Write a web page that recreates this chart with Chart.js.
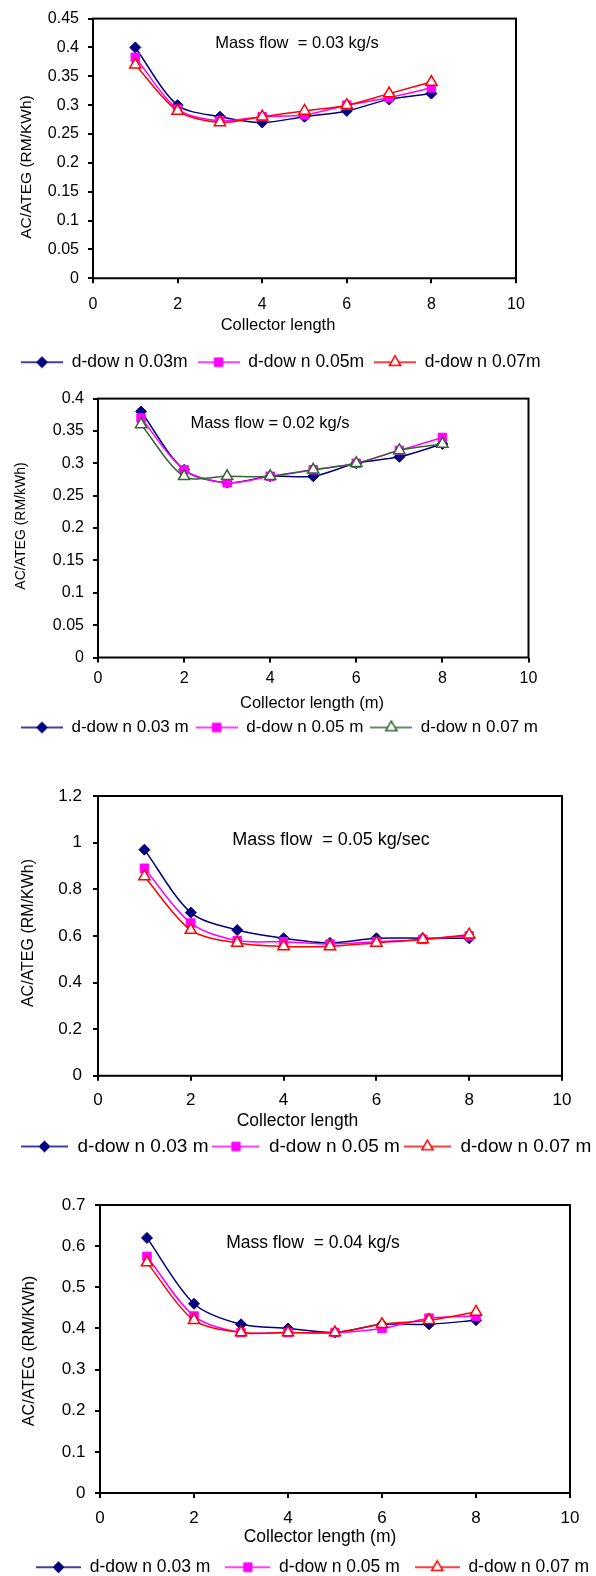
<!DOCTYPE html>
<html>
<head>
<meta charset="utf-8">
<title>AC/ATEG vs collector length</title>
<script src="https://cdn.jsdelivr.net/npm/chart.js@4.4.1/dist/chart.umd.min.js"></script>
<style>
  html, body { margin: 0; padding: 0; background: #fff; }
  body { width: 596px; height: 1576px; position: relative; overflow: hidden; }
  .panel { position: absolute; left: 0; width: 620px; }
</style>
</head>
<body>
<div class="panel" style="top:0;height:381px"><canvas id="flow003"></canvas></div>
<div class="panel" style="top:380px;height:366px"><canvas id="flow002"></canvas></div>
<div class="panel" style="top:760px;height:406px"><canvas id="flow005"></canvas></div>
<div class="panel" style="top:1170px;height:416px"><canvas id="flow004"></canvas></div>

<script>
// collector length (m) on the x axis
const collectorLength = [1, 2, 3, 4, 5, 6, 7, 8];
const xTicks = [0, 2, 4, 6, 8, 10];

// AC/ATEG for down-channel depth 0.03 / 0.05 / 0.07 m
const flow003_d003 = [0.40, 0.30, 0.28, 0.27, 0.28, 0.29, 0.31, 0.32];
const flow003_d005 = [0.383, 0.293, 0.273, 0.28, 0.283, 0.30, 0.313, 0.33];
const flow003_d007 = [0.37, 0.29, 0.27, 0.28, 0.29, 0.30, 0.32, 0.34];
const yTicks003 = [0, 0.05, 0.1, 0.15, 0.2, 0.25, 0.3, 0.35, 0.4, 0.45];

const flow002_d003 = [0.38, 0.29, 0.27, 0.28, 0.28, 0.30, 0.31, 0.33];
const flow002_d005 = [0.37, 0.29, 0.27, 0.28, 0.29, 0.30, 0.32, 0.34];
const flow002_d007 = [0.36, 0.28, 0.28, 0.28, 0.29, 0.30, 0.32, 0.33];
const yTicks002 = [0, 0.05, 0.1, 0.15, 0.2, 0.25, 0.3, 0.35, 0.4];

const flow005_d003 = [0.97, 0.70, 0.625, 0.59, 0.57, 0.59, 0.59, 0.59];
const flow005_d005 = [0.89, 0.655, 0.58, 0.575, 0.565, 0.575, 0.585, 0.60];
const flow005_d007 = [0.855, 0.625, 0.57, 0.555, 0.555, 0.57, 0.585, 0.605];
const yTicks005 = [0, 0.2, 0.4, 0.6, 0.8, 1, 1.2];

const flow004_d003 = [0.62, 0.46, 0.41, 0.40, 0.39, 0.41, 0.41, 0.42];
const flow004_d005 = [0.575, 0.43, 0.39, 0.39, 0.39, 0.40, 0.425, 0.43];
const flow004_d007 = [0.56, 0.42, 0.39, 0.39, 0.39, 0.41, 0.42, 0.44];
const yTicks004 = [0, 0.1, 0.2, 0.3, 0.4, 0.5, 0.6, 0.7];

const labelsTight = ['d-dow n 0.03m', 'd-dow n 0.05m', 'd-dow n 0.07m'];
const labelsSpaced = ['d-dow n 0.03 m', 'd-dow n 0.05 m', 'd-dow n 0.07 m'];

const FONT = '"Liberation Sans", Arial, Helvetica, sans-serif';
Chart.defaults.font.family = FONT;
Chart.defaults.color = '#000';

const diamond = { color: '#000080', fill: '#000080', shape: 'rectRot', radius: 5.5, border: 1 };
const square = { color: '#FF00FF', fill: '#FF00FF', shape: 'rect', radius: 6, border: 1 };
const triRed = { color: '#FF0000', fill: '#FFFFFF', shape: 'triangle', radius: 6.5, border: 1.5 };
const triGreen = { color: '#336633', fill: '#FFFFFF', shape: 'triangle', radius: 6.5, border: 1.5 };

// small line + marker swatch used as the legend point style
function legendIcon(ds, w) {
    const c = document.createElement('canvas');
    c.width = w;
    c.height = 16;
    const ctx = c.getContext('2d');
    ctx.strokeStyle = ds.borderColor;
    ctx.lineWidth = 1.5;
    ctx.beginPath();
    ctx.moveTo(0, 8);
    ctx.lineTo(w, 8);
    ctx.stroke();
    ctx.fillStyle = ds.pointBackgroundColor;
    ctx.strokeStyle = ds.pointBorderColor;
    ctx.lineWidth = ds.pointBorderWidth;
    Chart.helpers.drawPoint(ctx, {
        pointStyle: ds.pointStyle,
        radius: ds.pointRadius,
        rotation: 0,
        borderWidth: ds.pointBorderWidth
    }, w / 2, 8);
    return c;
}

const plotFrame = {
    id: 'plotFrame',
    beforeDatasetsDraw(chart) {
        const { left, top, right, bottom } = chart.chartArea;
        const ctx = chart.ctx;
        ctx.save();
        ctx.strokeStyle = '#000';
        ctx.lineWidth = 2;
        ctx.strokeRect(left, top, right - left, bottom - top);
        ctx.restore();
    }
};

function makeChart(p) {
    const datasets = p.series.map((vals, i) => {
        const s = p.styles[i];
        return {
            label: p.labels[i],
            data: collectorLength.map((x, k) => ({ x: x, y: vals[k] })),
            borderColor: s.color,
            backgroundColor: s.fill,
            borderWidth: 1.5,
            tension: 0.3,
            fill: false,
            pointStyle: s.shape,
            pointRadius: s.radius,
            pointHoverRadius: s.radius,
            pointBackgroundColor: s.fill,
            pointBorderColor: s.color,
            pointBorderWidth: s.border,
            // later series are painted on top
            order: p.series.length - i
        };
    });
    const icons = datasets.map(ds => legendIcon(ds, p.iconWidth));

    // annotation, axis captions
    const captions = {
        id: 'captions',
        afterDraw(chart) {
            const ctx = chart.ctx;
            p.texts.forEach(t => {
                ctx.save();
                ctx.fillStyle = '#000';
                ctx.textAlign = 'center';
                ctx.textBaseline = 'middle';
                ctx.font = t.size + 'px ' + FONT;
                ctx.translate(t.x, t.y);
                if (t.vertical) ctx.rotate(-Math.PI / 2);
                ctx.fillText(t.text, 0, 0);
                ctx.restore();
            });
        }
    };

    const axisGrid = {
        display: true,
        drawOnChartArea: false,
        drawTicks: true,
        tickLength: 5,
        color: '#000',
        lineWidth: 2
    };

    return new Chart(document.getElementById(p.id), {
        type: 'line',
        data: { datasets: datasets },
        options: {
            responsive: true,
            maintainAspectRatio: false,
            animation: false,
            events: [],
            layout: { padding: { left: p.padLeft, top: p.padTop, right: 0, bottom: 0 } },
            scales: {
                x: {
                    type: 'linear',
                    min: 0,
                    max: 10,
                    afterBuildTicks: s => { s.ticks = xTicks.map(v => ({ value: v })); },
                    afterFit: s => { s.height = p.xAxisHeight; },
                    ticks: { color: '#000', font: { size: p.tickSize }, padding: p.xTickPad, maxRotation: 0 },
                    grid: axisGrid,
                    border: { display: false }
                },
                y: {
                    type: 'linear',
                    position: 'left',
                    min: 0,
                    max: p.yTicks[p.yTicks.length - 1],
                    afterBuildTicks: s => { s.ticks = p.yTicks.map(v => ({ value: v })); },
                    afterFit: s => { s.width = p.yAxisWidth; },
                    ticks: {
                        color: '#000',
                        font: { size: p.tickSize },
                        padding: p.yTickPad,
                        callback: v => String(+Number(v).toFixed(2))
                    },
                    grid: axisGrid,
                    border: { display: false }
                },
                // empty right-hand axis, only reserves the space right of the plot
                spacer: {
                    type: 'linear',
                    position: 'right',
                    display: true,
                    grid: { display: false },
                    border: { display: false },
                    ticks: { display: false },
                    afterFit: s => { s.width = p.spacer; }
                }
            },
            plugins: {
                tooltip: { enabled: false },
                legend: {
                    position: 'bottom',
                    align: 'start',
                    labels: {
                        usePointStyle: true,
                        pointStyleWidth: p.iconWidth,
                        padding: p.legendPad,
                        color: '#000',
                        font: { size: p.legendSize },
                        sort: (a, b) => a.datasetIndex - b.datasetIndex,
                        generateLabels(chart) {
                            const items = Chart.defaults.plugins.legend.labels.generateLabels(chart);
                            items.forEach(it => { it.pointStyle = icons[it.datasetIndex]; });
                            return items;
                        }
                    }
                }
            }
        },
        plugins: [plotFrame, captions]
    });
}

makeChart({
    id: 'flow003',
    series: [flow003_d003, flow003_d005, flow003_d007],
    styles: [diamond, square, triRed],
    labels: labelsTight,
    yTicks: yTicks003,
    padLeft: 11, padTop: 16, spacer: 104,
    yAxisWidth: 82, xAxisHeight: 65.25,
    tickSize: 16, xTickPad: 11.5, yTickPad: 9,
    legendSize: 17.5, legendPad: 10, iconWidth: 42,
    texts: [
        { text: 'AC/ATEG (RM/KWh)', x: 27, y: 167, size: 15.5, vertical: true },
        { text: 'Mass flow  = 0.03 kg/s', x: 297, y: 43, size: 16.5 },
        { text: 'Collector length', x: 278, y: 325, size: 16.5 }
    ]
});

makeChart({
    id: 'flow002',
    series: [flow002_d003, flow002_d005, flow002_d007],
    styles: [diamond, square, triGreen],
    labels: labelsSpaced,
    yTicks: yTicks002,
    padLeft: 14, padTop: 17, spacer: 91.5,
    yAxisWidth: 84, xAxisHeight: 54.5,
    tickSize: 16, xTickPad: 6, yTickPad: 9,
    legendSize: 17, legendPad: 7, iconWidth: 42,
    texts: [
        { text: 'AC/ATEG (RM/kWh)', x: 21, y: 146, size: 14, vertical: true },
        { text: 'Mass flow = 0.02 kg/s', x: 270, y: 43, size: 16.5 },
        { text: 'Collector length (m)', x: 312, y: 323, size: 16.5 }
    ]
});

makeChart({
    id: 'flow005',
    series: [flow005_d003, flow005_d005, flow005_d007],
    styles: [diamond, square, triRed],
    labels: labelsSpaced,
    yTicks: yTicks005,
    padLeft: 17, padTop: 36, spacer: 58,
    yAxisWidth: 81, xAxisHeight: 57.2,
    tickSize: 17, xTickPad: 9, yTickPad: 11,
    legendSize: 19, legendPad: 4, iconWidth: 47,
    texts: [
        { text: 'AC/ATEG (RM/KWh)', x: 28.5, y: 173, size: 16, vertical: true },
        { text: 'Mass flow  = 0.05 kg/sec', x: 331, y: 80, size: 18 },
        { text: 'Collector length', x: 297.5, y: 361, size: 17.5 }
    ]
});

makeChart({
    id: 'flow004',
    series: [flow004_d003, flow004_d005, flow004_d007],
    styles: [diamond, square, triRed],
    labels: labelsSpaced,
    yTicks: yTicks004,
    padLeft: 21, padTop: 35, spacer: 50,
    yAxisWidth: 79, xAxisHeight: 50.5,
    tickSize: 17, xTickPad: 10.5, yTickPad: 9.5,
    legendSize: 17.5, legendPad: 15, iconWidth: 45,
    texts: [
        { text: 'AC/ATEG (RM/KWh)', x: 30, y: 181, size: 16.25, vertical: true },
        { text: 'Mass flow  = 0.04 kg/s', x: 313, y: 73, size: 17.5 },
        { text: 'Collector length (m)', x: 320, y: 367, size: 17.5 }
    ]
});
</script>
</body>
</html>
